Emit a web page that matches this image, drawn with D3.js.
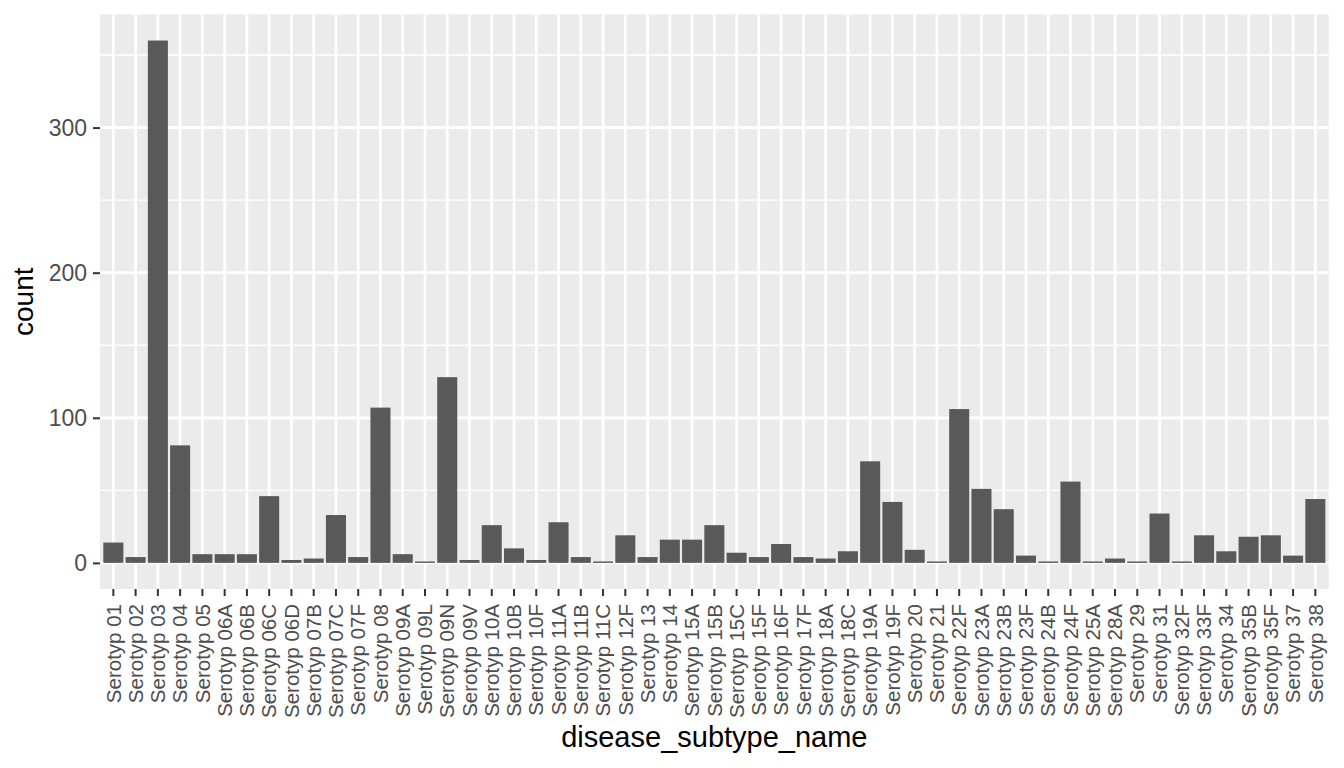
<!DOCTYPE html>
<html>
<head>
<meta charset="utf-8">
<script src="https://cdn.jsdelivr.net/npm/d3@7"></script>
<style>
html, body { margin: 0; padding: 0; background: #ffffff; }
svg { display: block; font-family: "Liberation Sans", Arial, sans-serif; }
</style>
</head>
<body>
<svg id="chart" width="1344" height="768"></svg>
<script>
const categories = ["Serotyp 01","Serotyp 02","Serotyp 03","Serotyp 04","Serotyp 05","Serotyp 06A","Serotyp 06B","Serotyp 06C","Serotyp 06D","Serotyp 07B","Serotyp 07C","Serotyp 07F","Serotyp 08","Serotyp 09A","Serotyp 09L","Serotyp 09N","Serotyp 09V","Serotyp 10A","Serotyp 10B","Serotyp 10F","Serotyp 11A","Serotyp 11B","Serotyp 11C","Serotyp 12F","Serotyp 13","Serotyp 14","Serotyp 15A","Serotyp 15B","Serotyp 15C","Serotyp 15F","Serotyp 16F","Serotyp 17F","Serotyp 18A","Serotyp 18C","Serotyp 19A","Serotyp 19F","Serotyp 20","Serotyp 21","Serotyp 22F","Serotyp 23A","Serotyp 23B","Serotyp 23F","Serotyp 24B","Serotyp 24F","Serotyp 25A","Serotyp 28A","Serotyp 29","Serotyp 31","Serotyp 32F","Serotyp 33F","Serotyp 34","Serotyp 35B","Serotyp 35F","Serotyp 37","Serotyp 38"];
const counts = [14,4,360,81,6,6,6,46,2,3,33,4,107,6,1,128,2,26,10,2,28,4,1,19,4,16,16,26,7,4,13,4,3,8,70,42,9,1,106,51,37,5,1,56,1,3,1,34,1,19,8,18,19,5,44];
const yTicks = [0,100,200,300];
const yMinor = [50,150,250,350];
const xTitle = "disease_subtype_name";
const yTitle = "count";

const svg = d3.select("#chart");
const panel = {left: 100, right: 1328.7, top: 14.4, bottom: 589};
const n = categories.length;

// discrete scale with ggplot expansion (0.6 units each side)
const xPos = d3.scaleLinear().domain([0.4, n + 0.6]).range([panel.left, panel.right]);
const x = d3.scaleBand().domain(categories).range([xPos(0.5), xPos(n + 0.5)]).paddingInner(0.1).paddingOuter(0.05);
const xc = d => xPos(categories.indexOf(d) + 1);

const maxV = d3.max(counts);
const y = d3.scaleLinear().domain([-0.05 * maxV, 1.05 * maxV]).range([panel.bottom, panel.top]);

svg.append("rect")
  .attr("x", panel.left).attr("y", panel.top)
  .attr("width", panel.right - panel.left).attr("height", panel.bottom - panel.top)
  .attr("fill", "#EBEBEB");

const grid = svg.append("g");
grid.selectAll("line.minor").data(yMinor).join("line")
  .attr("x1", panel.left).attr("x2", panel.right)
  .attr("y1", d => y(d)).attr("y2", d => y(d))
  .attr("stroke", "#ffffff").attr("stroke-width", 1.4);
grid.selectAll("line.majy").data(yTicks).join("line")
  .attr("x1", panel.left).attr("x2", panel.right)
  .attr("y1", d => y(d)).attr("y2", d => y(d))
  .attr("stroke", "#ffffff").attr("stroke-width", 2.7);
grid.selectAll("line.majx").data(categories).join("line")
  .attr("y1", panel.top).attr("y2", panel.bottom)
  .attr("x1", d => xc(d)).attr("x2", d => xc(d))
  .attr("stroke", "#ffffff").attr("stroke-width", 2.7);

const bw = 0.9 * (xPos(2) - xPos(1));
svg.append("g").selectAll("rect").data(categories).join("rect")
  .attr("x", d => xc(d) - bw / 2)
  .attr("width", bw)
  .attr("y", (d, i) => y(counts[i]))
  .attr("height", (d, i) => y(0) - y(counts[i]))
  .attr("fill", "#595959");

// Y axis
const yAxis = svg.append("g").attr("transform", `translate(${panel.left},0)`)
  .call(d3.axisLeft(y).tickValues(yTicks).tickSize(7).tickPadding(6).tickFormat(d3.format("d")));
yAxis.select(".domain").remove();
yAxis.selectAll(".tick line").attr("stroke", "#333333").attr("stroke-width", 2);
yAxis.selectAll(".tick text").attr("fill", "#4D4D4D").attr("font-size", 23)
  .attr("font-family", "Liberation Sans, Arial, sans-serif").attr("dy", "0.34em");

// X axis
const xAxis = svg.append("g").attr("transform", `translate(0,${panel.bottom})`)
  .call(d3.axisBottom(x).tickSize(7).tickPadding(0));
xAxis.select(".domain").remove();
xAxis.selectAll(".tick").attr("transform", d => `translate(${xc(d)},0)`);
xAxis.selectAll(".tick line").attr("stroke", "#333333").attr("stroke-width", 2);
xAxis.selectAll(".tick text")
  .attr("fill", "#4D4D4D").attr("font-size", 20.5)
  .attr("font-family", "Liberation Sans, Arial, sans-serif")
  .attr("text-anchor", "end")
  .attr("transform", "translate(0,15) rotate(-90)")
  .attr("x", 0).attr("y", 0).attr("dy", "0.35em");

// Titles
svg.append("text")
  .attr("x", (panel.left + panel.right) / 2).attr("y", 747)
  .attr("text-anchor", "middle").attr("font-size", 29).attr("fill", "#000000")
  .text(xTitle);
svg.append("text")
  .attr("transform", `translate(33,${(panel.top + panel.bottom) / 2}) rotate(-90)`)
  .attr("text-anchor", "middle").attr("font-size", 28).attr("fill", "#000000")
  .text(yTitle);
</script>
</body>
</html>
